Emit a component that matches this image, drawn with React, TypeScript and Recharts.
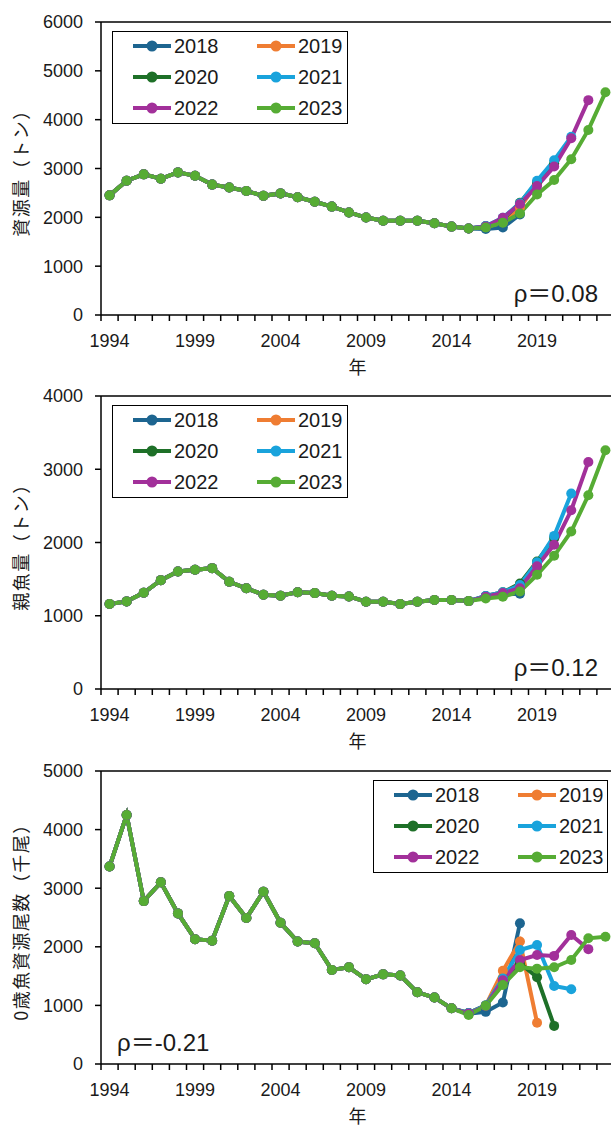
import React from 'react';
import { LineChart, Line, XAxis, YAxis, Legend, ReferenceLine } from 'recharts';

// Assessment years 1994–2023
const YEARS = [
  1994, 1995, 1996, 1997, 1998, 1999, 2000, 2001, 2002, 2003,
  2004, 2005, 2006, 2007, 2008, 2009, 2010, 2011, 2012, 2013,
  2014, 2015, 2016, 2017, 2018, 2019, 2020, 2021, 2022, 2023,
];
const LABEL_YEARS = [1994, 1999, 2004, 2009, 2014, 2019];
const SERIES_NAMES = ['2018', '2019', '2020', '2021', '2022', '2023'];
const SERIES_COLORS = ['#1d6590', '#ef7d32', '#1e7028', '#19a3dc', '#a2309a', '#56ac34'];

// 資源量 (t): shared history 1994–2015, then each assessment's own tail from 2016
const biomassBase = [
  2450, 2750, 2880, 2790, 2920, 2850, 2670, 2610, 2540, 2440, 2490,
  2410, 2320, 2220, 2100, 1995, 1930, 1930, 1930, 1880, 1810, 1770,
];
const biomass2018 = [1760, 1790, 2060];
const biomass2019 = [1800, 1900, 2200, 2700];
const biomass2020 = [1820, 1960, 2300, 2720, 3100];
const biomass2021 = [1820, 1990, 2290, 2750, 3170, 3650];
const biomass2022 = [1810, 1990, 2270, 2640, 3040, 3620, 4400];
const biomass2023 = [1790, 1890, 2080, 2470, 2765, 3190, 3790, 4560];

// 親魚量 (t): shared history 1994–2015, tails from 2016
const spawnerBase = [
  1160, 1196, 1314, 1486, 1605, 1627, 1650, 1464, 1375, 1287, 1273,
  1322, 1309, 1273, 1264, 1191, 1191, 1159, 1191, 1214, 1214, 1200,
];
const spawner2018 = [1260, 1290, 1300];
const spawner2019 = [1260, 1300, 1400, 1700];
const spawner2020 = [1270, 1320, 1440, 1740, 2060];
const spawner2021 = [1270, 1320, 1420, 1730, 2090, 2670];
const spawner2022 = [1260, 1310, 1375, 1675, 1970, 2440, 3100];
const spawner2023 = [1236, 1259, 1332, 1559, 1818, 2150, 2645, 3260];

// 0歳魚資源尾数 (千尾): shared history 1994–2014, tails from 2015
const recruitBase = [
  3370, 4250, 2780, 3100, 2570, 2130, 2105, 2865, 2490, 2940, 2410,
  2090, 2060, 1605, 1650, 1445, 1530, 1510, 1223, 1135, 950,
];
const recruit2018 = [860, 890, 1050, 2400];
const recruit2019 = [870, 1000, 1590, 2090, 705];
const recruit2020 = [870, 1000, 1450, 1720, 1480, 650];
const recruit2021 = [870, 1000, 1460, 1945, 2030, 1330, 1275];
const recruit2022 = [860, 990, 1430, 1775, 1860, 1845, 2200, 1960];
const recruit2023 = [836, 995, 1348, 1650, 1627, 1650, 1775, 2145, 2173];

const TICKS_BIOMASS = [0, 1000, 2000, 3000, 4000, 5000, 6000];
const TICKS_SPAWNER = [0, 1000, 2000, 3000, 4000];
const TICKS_RECRUIT = [0, 1000, 2000, 3000, 4000, 5000];

const FONT = '"Liberation Sans", Arial, "Noto Sans CJK JP", sans-serif';
const CJK = '"Noto Sans CJK JP", "Liberation Sans", sans-serif';
const TEXT = '#1a1a1a';

function buildRows(base: number[], tails: number[][]) {
  const series = tails.map((t) => base.concat(t));
  return YEARS.map((year, i) => {
    const row: Record<string, number | undefined> = { year };
    SERIES_NAMES.forEach((name, k) => {
      row['s' + name] = series[k][i];
    });
    return row;
  });
}

const biomassRows = buildRows(biomassBase, [biomass2018, biomass2019, biomass2020, biomass2021, biomass2022, biomass2023]);
const spawnerRows = buildRows(spawnerBase, [spawner2018, spawner2019, spawner2020, spawner2021, spawner2022, spawner2023]);
const recruitRows = buildRows(recruitBase, [recruit2018, recruit2019, recruit2020, recruit2021, recruit2022, recruit2023]);

const BOUNDS = YEARS.map((y) => y - 0.5).concat([YEARS[YEARS.length - 1] + 0.5]);

const CHART_W = 640;
const CHART_H = 390;
const MARGIN = { top: 22, right: 26, bottom: 15, left: 0 };
const PLOT_W = CHART_W - MARGIN.right - 101;
const PLOT_H = 293;
const HALF_STEP = PLOT_W / YEARS.length / 2;

function YearTick(props: any) {
  const { x, y, payload } = props;
  const yr = payload.value + 0.5;
  if (!LABEL_YEARS.includes(yr)) return <g />;
  return (
    <text x={x + HALF_STEP} y={y} dy="0.71em" textAnchor="middle" fontSize={18} fill={TEXT} fontFamily={FONT}>
      {yr}
    </text>
  );
}

function LegendBox(props: any) {
  const payload = props.payload || [];
  const rowsY = [15, 46, 77];
  return (
    <div
      style={{
        position: 'relative',
        width: '100%',
        height: '100%',
        border: '1.5px solid #000',
        boxSizing: 'border-box',
        background: '#fff',
        fontFamily: FONT,
        fontSize: 20,
        color: TEXT,
      }}
    >
      {payload.map((item: any, i: number) => {
        const col = i % 2;
        const row = Math.floor(i / 2);
        return (
          <div
            key={item.value}
            style={{
              position: 'absolute',
              left: col ? 143 : 19,
              top: rowsY[row] - 13,
              height: 24,
              display: 'flex',
              alignItems: 'center',
              whiteSpace: 'nowrap',
            }}
          >
            <svg width={40} height={24} style={{ display: 'block' }}>
              <line x1={1} y1={12} x2={39} y2={12} stroke={item.color} strokeWidth={4} />
              <circle cx={20} cy={12} r={5.5} fill={item.color} />
            </svg>
            <span style={{ marginLeft: 2, lineHeight: '24px' }}>{item.value}</span>
          </div>
        );
      })}
    </div>
  );
}

type PanelProps = {
  rows: Record<string, number | undefined>[];
  yMax: number;
  yTicks: number[];
  yTitle: string;
  rho: string;
  rhoX: number;
  rhoAnchor: 'start' | 'end';
  legendLeft: number;
  legendWidth: number;
};

function Panel({ rows, yMax, yTicks, yTitle, rho, rhoX, rhoAnchor, legendLeft, legendWidth }: PanelProps) {
  const plotMidY = MARGIN.top + PLOT_H / 2;
  const plotBottom = MARGIN.top + PLOT_H;
  return (
    <LineChart width={CHART_W} height={CHART_H} data={rows} margin={MARGIN}>
      <XAxis
        type="number"
        dataKey="year"
        domain={[BOUNDS[0], BOUNDS[BOUNDS.length - 1]]}
        ticks={BOUNDS}
        interval={0}
        allowDataOverflow
        height={60}
        tickSize={6}
        tickMargin={13}
        axisLine={{ stroke: '#000', strokeWidth: 1.5 }}
        tickLine={{ stroke: '#000', strokeWidth: 1.5 }}
        tick={<YearTick />}
      />
      <YAxis
        domain={[0, yMax]}
        ticks={yTicks}
        interval={0}
        width={101}
        tickSize={6}
        tickMargin={12}
        axisLine={{ stroke: '#000', strokeWidth: 1.5 }}
        tickLine={{ stroke: '#000', strokeWidth: 1.5 }}
        tick={{ fontSize: 18, fill: TEXT, fontFamily: FONT }}
      />
      <ReferenceLine y={yMax} stroke="#000" strokeWidth={1.5} />
      {SERIES_NAMES.map((name, k) => (
        <Line
          key={name}
          name={name}
          dataKey={'s' + name}
          stroke={SERIES_COLORS[k]}
          strokeWidth={4}
          dot={{ r: 5, fill: SERIES_COLORS[k], stroke: SERIES_COLORS[k], strokeWidth: 0 }}
          activeDot={false}
          isAnimationActive={false}
        />
      ))}
      <Legend
        layout="vertical"
        align="center"
        verticalAlign="middle"
        wrapperStyle={{ left: legendLeft, top: 31, width: legendWidth, height: 93 }}
        content={<LegendBox />}
      />
      <text
        transform={`translate(20, ${plotMidY}) rotate(-90)`}
        textAnchor="middle"
        dominantBaseline="central"
        fontSize={18}
        letterSpacing={1.5}
        fill={TEXT}
        fontFamily={CJK}
      >
        {yTitle}
      </text>
      <text x={101 + PLOT_W / 2} y={plotBottom + 51} textAnchor="middle" dominantBaseline="central" fontSize={18} fill={TEXT} fontFamily={CJK}>
        年
      </text>
      <text x={rhoX} y={plotBottom - 13} textAnchor={rhoAnchor} fontSize={24} fill={TEXT} fontFamily={FONT}>
        {rho}
      </text>
    </LineChart>
  );
}

export default function App() {
  return (
    <div style={{ position: 'absolute', left: 0, top: 0, width: 611, height: 1129, overflow: 'hidden', background: '#fff' }}>
      <div style={{ position: 'absolute', left: 0, top: 0 }}>
        <Panel rows={biomassRows} yMax={6000} yTicks={TICKS_BIOMASS} yTitle="資源量（トン）" rho="ρ＝0.08" rhoX={598} rhoAnchor="end" legendLeft={112} legendWidth={236} />
      </div>
      <div style={{ position: 'absolute', left: 0, top: 374 }}>
        <Panel rows={spawnerRows} yMax={4000} yTicks={TICKS_SPAWNER} yTitle="親魚量（トン）" rho="ρ＝0.12" rhoX={598} rhoAnchor="end" legendLeft={112} legendWidth={236} />
      </div>
      <div style={{ position: 'absolute', left: 0, top: 749 }}>
        <Panel rows={recruitRows} yMax={5000} yTicks={TICKS_RECRUIT} yTitle="0歳魚資源尾数（千尾）" rho="ρ＝-0.21" rhoX={117} rhoAnchor="start" legendLeft={373} legendWidth={235} />
      </div>
    </div>
  );
}
